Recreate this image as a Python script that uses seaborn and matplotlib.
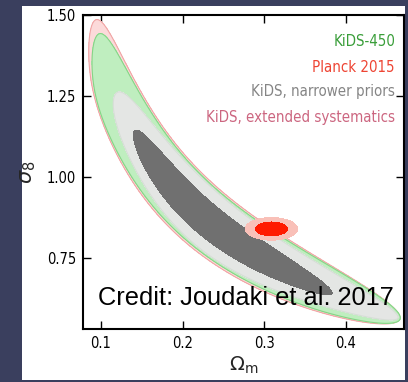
import numpy as np
import matplotlib
matplotlib.use("Agg")
import matplotlib.pyplot as plt
from matplotlib.patches import Rectangle
from matplotlib import font_manager as fm
import seaborn as sns

# ---------------- data ----------------
# KiDS posteriors: banana along S8 = sigma_8 (Omega_m/0.3)^alpha
alpha = 0.55
region_names = ["KiDS, extended systematics", "KiDS-450",
                "KiDS, narrower priors 95%", "KiDS, narrower priors 68%"]
tip_lo_om = [0.085, 0.089, 0.115, 0.1396]     # Omega_m extent of each region
tip_hi_om = [0.466, 0.4665, 0.4639, 0.383]
s8_centre = [0.753, 0.753, 0.753, 0.751]       # S8 along the ridge
s8_bend_lo = [-0.060, -0.060, -0.030, -0.010]  # drop of the ridge, low-Omega_m end
s8_bend_hi = [-0.032, -0.032, -0.032, -0.016]  # drop of the ridge, high-Omega_m end
s8_halfwidth = [0.108, 0.101, 0.094, 0.055]    # S8 half-width at the middle
tip_power = [4.0, 4.0, 2.0, 2.5]               # bluntness of the ends
region_fill = ["#fcdada", "#bfeebf", "#e4e6e4", "#707070"]
region_edge = ["#f0a5a5", "#86d486", "#d6ded6", "#707070"]

# Planck 2015 (Gaussian): mean and sigma
planck_mean = [0.3087, 0.840]
planck_sigma = [0.0129, 0.0140]
planck_fill = ["#f9c0b8", "#ff1a00"]

legend_labels = ["KiDS-450", "Planck 2015", "KiDS, narrower priors",
                 "KiDS, extended systematics"]
legend_colors = ["#3a9e3a", "#ee4433", "#858585", "#cc6680"]

xticks = [0.1, 0.2, 0.3, 0.4]
yticks = [0.75, 1.00, 1.25, 1.50]
xlim = (0.078, 0.471)
ylim = (0.531, 1.50)
credit = "Credit: Joudaki et al. 2017"

# ---------------- style ----------------
sns.set_theme(style="ticks")
plt.rcParams["font.family"] = ["DejaVu Sans"]
plt.rcParams["mathtext.fontset"] = "dejavusans"

cond_fp = fm.FontProperties(family="DejaVu Sans", stretch="condensed")
path = fm.findfont(cond_fp, fallback_to_default=True)
if "ondensed" in path:
    label_font = dict(family="DejaVu Sans", fontstretch="condensed")
    leg_size, tick_size = 10.8, 10.5
else:
    label_font = dict(family="DejaVu Sans")
    leg_size, tick_size = 9.8, 9.6

W, H = 408, 382
fig = plt.figure(figsize=(W / 100, H / 100), dpi=100)
fig.patch.set_facecolor("#3a3f5e")
panel = Rectangle((22 / W, 1 - 380 / H), (405 - 22) / W, (380 - 6) / H,
                  transform=fig.transFigure, facecolor="white",
                  edgecolor="none", zorder=-5)
fig.patches.append(panel)

ax = fig.add_axes([83 / W, 1 - 329 / H, (404 - 83) / W, (329 - 15) / H])
ax.set_zorder(2)
ax.set_facecolor("white")

om = np.linspace(xlim[0], xlim[1], 800)
sg = np.linspace(ylim[0], ylim[1], 800)
OM, SG = np.meshgrid(om, sg)
S8 = SG * (OM / 0.3) ** alpha
LOM = np.log(OM)

for i in range(len(region_names)):
    a, b = np.log(tip_lo_om[i]), np.log(tip_hi_om[i])
    t = (LOM - (a + b) / 2) / ((b - a) / 2)
    bend = np.where(t < 0, s8_bend_lo[i], s8_bend_hi[i])
    ridge = s8_centre[i] + bend * t ** 4
    F = np.abs(t) ** tip_power[i] + ((S8 - ridge) / s8_halfwidth[i]) ** 2
    ax.contourf(OM, SG, F, levels=[0, 1], colors=[region_fill[i]], zorder=2 + i)
    if i < 3:
        ax.contour(OM, SG, F, levels=[1], colors=[region_edge[i]],
                   linewidths=0.8, zorder=2 + i)

chi = ((OM - planck_mean[0]) / planck_sigma[0]) ** 2 + \
      ((SG - planck_mean[1]) / planck_sigma[1]) ** 2
ax.contourf(OM, SG, chi, levels=[0, 6.17], colors=[planck_fill[0]], zorder=8)
ax.contourf(OM, SG, chi, levels=[0, 2.30], colors=[planck_fill[1]], zorder=9)

for j, (lab, col) in enumerate(zip(legend_labels, legend_colors)):
    ax.text(0.972, [0.900, 0.818, 0.741, 0.658][j], lab, color=col,
            fontsize=leg_size, ha="right", va="baseline", transform=ax.transAxes,
            zorder=12, **label_font)

ax.text(0.047, 0.076, credit, fontsize=18.3, family=["Liberation Sans", "DejaVu Sans"],
        color="black", ha="left", va="baseline", transform=ax.transAxes, zorder=12)

ax.set_xlim(*xlim)
ax.set_ylim(*ylim)
ax.set_xticks(xticks)
ax.set_xticklabels([f"{v:.1f}" for v in xticks])
ax.set_yticks(yticks)
ax.set_yticklabels([f"{v:.2f}" for v in yticks])
ax.tick_params(direction="in", length=6, width=1, top=True, right=True,
               labelsize=tick_size, colors="black", pad=5)
for lab in ax.get_xticklabels() + ax.get_yticklabels():
    lab.set(**label_font)
for s in ax.spines.values():
    s.set_linewidth(1.5)
    s.set_color("black")
    s.set_zorder(20)

ax.set_xlabel(r"$\Omega_{\rm m}$", fontsize=14, labelpad=3)
ax.set_ylabel(r"$\sigma_8$", fontsize=15, labelpad=6)

fig.savefig("out.png", dpi=100, facecolor=fig.get_facecolor())
